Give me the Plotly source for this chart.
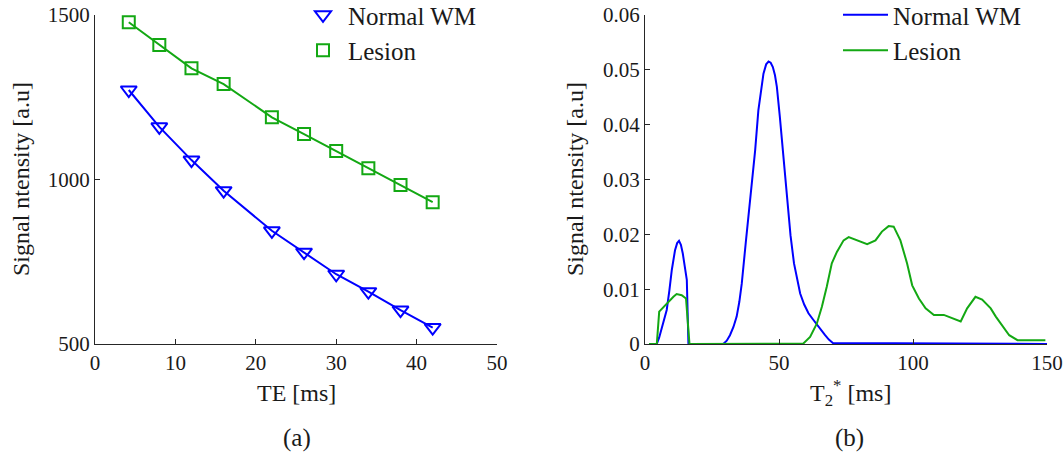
import plotly.graph_objects as go

W, H = 1064, 452

# ---- panel (a): signal decay ----
te_ms = [4.2, 8, 12, 16, 22, 26, 30, 34, 38, 42]
wm_signal = [1272, 1160, 1059, 966, 844, 779, 712, 659, 603, 550]
lesion_signal = [1478, 1409, 1338, 1290, 1189, 1138, 1087, 1034, 983, 931]

# ---- panel (b): T2* distributions ----
t2_wm = [1.5, 4.4, 5.3, 6.2, 7.2, 8.1, 9.1, 10.0, 11.2, 12.0, 12.7, 13.4, 14.1, 14.9,
         15.6, 16.2, 29.2, 30.5, 31.7, 33.0, 34.2, 35.2, 36.1, 37.6, 39.2, 40.2, 41.1,
         42.3, 43.2, 44.2, 45.2, 46.1, 46.9, 47.7, 48.5, 49.2, 50.3, 51.4, 52.2, 53.0,
         54.3, 55.6, 56.7, 57.9, 59.4, 61.0, 62.5, 64.1, 65.6, 67.2, 68.6, 70.1, 150]
dist_wm = [0, 0, 0.0012, 0.0029, 0.0044, 0.0062, 0.0098, 0.0135, 0.0171, 0.0184,
           0.0188, 0.0181, 0.0165, 0.0142, 0.0117, 0, 0, 0.0006, 0.0016, 0.0031, 0.005,
           0.0077, 0.011, 0.0185, 0.0262, 0.031, 0.0353, 0.0426, 0.0463, 0.0493,
           0.051, 0.0515, 0.0513, 0.0505, 0.049, 0.0469, 0.0415, 0.0353, 0.031,
           0.0262, 0.0198, 0.0147, 0.0117, 0.0092, 0.0072, 0.0056, 0.0046, 0.0035,
           0.0025, 0.0016, 0.0008, 0.0002, 0]
t2_lesion = [1.5, 4.4, 5.3, 8.1, 10.6, 11.8, 13.7, 15.3, 15.9, 16.6, 59.1, 61.6,
             64.1, 66.0, 67.8, 69.7, 71.6, 74.1, 76.0, 79.1, 82.9, 86.0, 88.4, 90.9,
             92.8, 95.3, 97.8, 99.7, 102.2, 104.7, 107.8, 111.5, 114.6, 117.8, 120.2,
             123.3, 125.8, 129.0, 130.9, 133.4, 135.9, 139.0, 149.4]
dist_lesion = [0, 0, 0.0059, 0.0074, 0.0086, 0.0091, 0.0089, 0.0083, 0.005, 0,
               0.0001, 0.0013, 0.0037, 0.0068, 0.0104, 0.0147, 0.0168, 0.0189,
               0.0195, 0.0189, 0.0182, 0.0189, 0.0205, 0.0215, 0.0214, 0.0189,
               0.0147, 0.0107, 0.0083, 0.0065, 0.0053, 0.0053, 0.0047, 0.0041,
               0.0065, 0.0086, 0.0081, 0.0065, 0.005, 0.0032, 0.0016, 0.0007, 0.0007]

x_ticks_a = [0, 10, 20, 30, 40, 50]
y_ticks_a = [500, 1000, 1500]
x_ticks_b = [0, 50, 100, 150]
y_ticks_b = [0, 0.01, 0.02, 0.03, 0.04, 0.05, 0.06]
y_ticktext_b = ["0", "0.01", "0.02", "0.03", "0.04", "0.05", "0.06"]

BLUE = "#0000ff"
GREEN = "#13a813"
FONT = "'Liberation Serif', 'Times New Roman', Times, 'DejaVu Serif', serif"
AXC = "#262626"
TXT = "#1a1a1a"


def px(x):
    return x / W


def py(y):
    return 1 - y / H


fig = go.Figure()

# panel (a)
fig.add_trace(go.Scatter(x=te_ms, y=wm_signal, mode="lines", line=dict(color=BLUE, width=2),
                         showlegend=False, xaxis="x", yaxis="y"))
fig.add_trace(go.Scatter(x=te_ms, y=lesion_signal, mode="lines", line=dict(color=GREEN, width=2),
                         showlegend=False, xaxis="x", yaxis="y"))
fig.add_trace(go.Scatter(x=te_ms, y=wm_signal, mode="markers", name="Normal WM",
                         marker=dict(symbol="triangle-down-open", size=14, color=BLUE,
                                     line=dict(width=2, color=BLUE)),
                         xaxis="x", yaxis="y", legend="legend"))
fig.add_trace(go.Scatter(x=te_ms, y=lesion_signal, mode="markers", name="Lesion",
                         marker=dict(symbol="square-open", size=12, color=GREEN,
                                     line=dict(width=2, color=GREEN)),
                         xaxis="x", yaxis="y", legend="legend"))

# panel (b)
fig.add_trace(go.Scatter(x=t2_wm, y=dist_wm, mode="lines", name="Normal WM",
                         line=dict(color=BLUE, width=2), xaxis="x2", yaxis="y2",
                         legend="legend2"))
fig.add_trace(go.Scatter(x=t2_lesion, y=dist_lesion, mode="lines", name="Lesion",
                         line=dict(color=GREEN, width=2), xaxis="x2", yaxis="y2",
                         legend="legend2"))

axis_common = dict(showline=True, linecolor=AXC, linewidth=1, ticks="inside", ticklen=5,
                   tickcolor=AXC, tickwidth=1, showgrid=False, zeroline=False,
                   tickfont=dict(family=FONT, size=21, color=TXT), automargin=False)

ydom = [py(344), py(15)]

fig.update_layout(
    width=W, height=H,
    margin=dict(l=0, r=0, t=0, b=0, autoexpand=False),
    paper_bgcolor="white", plot_bgcolor="white",
    font=dict(family=FONT, color=TXT),
    xaxis=dict(domain=[px(95), px(497)], range=[0, 50], tickvals=x_ticks_a,
               anchor="y", **axis_common),
    yaxis=dict(domain=ydom, range=[500, 1500], tickvals=y_ticks_a, anchor="x",
               **axis_common),
    xaxis2=dict(domain=[px(645), px(1047)], range=[0, 150], tickvals=x_ticks_b,
                anchor="y2", **axis_common),
    yaxis2=dict(domain=ydom, range=[0, 0.06], tickvals=y_ticks_b, ticktext=y_ticktext_b,
                anchor="x2", **axis_common),
    legend=dict(x=px(298), y=1 + 8 / H, xanchor="left", yanchor="top",
                bgcolor="rgba(0,0,0,0)",
                font=dict(family=FONT, size=25, color=TXT), itemwidth=40),
    legend2=dict(x=px(838), y=1 + 8 / H, xanchor="left", yanchor="top",
                 bgcolor="rgba(0,0,0,0)",
                 font=dict(family=FONT, size=25, color=TXT), itemwidth=45),
)

ann_font = dict(family=FONT, size=24, color=TXT)
big_font = dict(family=FONT, size=25, color=TXT)
annotations = [
    dict(text="TE [ms]", x=px(296), y=py(393), font=ann_font),
    dict(text="T<sub>2</sub><sup>*</sup> [ms]", x=px(850), y=py(393), font=ann_font),
    dict(text="Signal ntensity [a.u]", x=px(21), y=py(179), textangle=-90, font=ann_font),
    dict(text="Signal ntensity [a.u]", x=px(575), y=py(179), textangle=-90, font=ann_font),
    dict(text="(a)", x=px(297), y=py(438), font=big_font),
    dict(text="(b)", x=px(849), y=py(438), font=big_font),
]
for a in annotations:
    fig.add_annotation(xref="paper", yref="paper", showarrow=False, xanchor="center",
                       yanchor="middle", **a)

fig.write_html("out.html")
